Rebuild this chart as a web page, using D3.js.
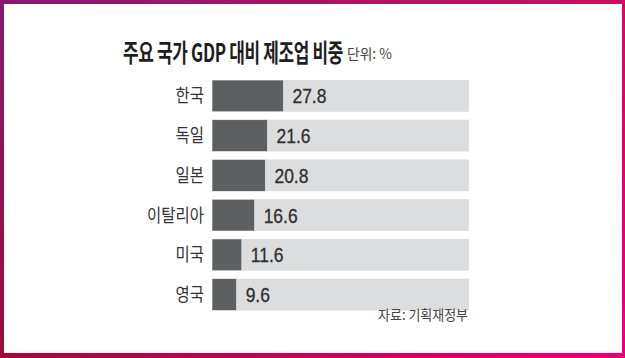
<!DOCTYPE html>
<html><head><meta charset="utf-8">
<script src="https://cdn.jsdelivr.net/npm/d3@7"></script>
<style>
html,body{margin:0;padding:0;background:#fff;}
svg{display:block;}
</style></head>
<body>
<svg id="c" width="625" height="358"></svg>
<script>
const categories = ["한국", "독일", "일본", "이탈리아", "미국", "영국"];
const values = [27.8, 21.6, 20.8, 16.6, 11.6, 9.6];
const valueLabels = ["27.8", "21.6", "20.8", "16.6", "11.6", "9.6"];
const domainMax = 100;
const titleText = "주요 국가 GDP 대비 제조업 비중";
const unitText = "단위: %";
const sourceText = "자료: 기획재정부";

const svg = d3.select("#c");
const W = 625, H = 358;
const defs = svg.append("defs");
function grad(id, x1, y1, x2, y2, c1, c2) {
  const g = defs.append("linearGradient").attr("id", id)
    .attr("x1", x1).attr("y1", y1).attr("x2", x2).attr("y2", y2);
  g.append("stop").attr("offset", "0%").attr("stop-color", c1);
  g.append("stop").attr("offset", "100%").attr("stop-color", c2);
}
grad("gTop", "0%", "0%", "100%", "0%", "#8c1670", "#cc0d5e");
grad("gBot", "0%", "0%", "100%", "0%", "#a6063c", "#e3007b");
grad("gLeft", "0%", "0%", "0%", "100%", "#8c1670", "#a6063c");
grad("gRight", "0%", "0%", "0%", "100%", "#cc0d5e", "#e3007b");

svg.append("rect").attr("width", W).attr("height", H).attr("fill", "#fff");
svg.append("rect").attr("x", 0).attr("y", 0).attr("width", W).attr("height", 4).attr("fill", "url(#gTop)");
svg.append("rect").attr("x", 0).attr("y", 353).attr("width", W).attr("height", 5).attr("fill", "url(#gBot)");
svg.append("rect").attr("x", 0).attr("y", 0).attr("width", 4).attr("height", H).attr("fill", "url(#gLeft)");
svg.append("rect").attr("x", 622).attr("y", 0).attr("width", 3).attr("height", H).attr("fill", "url(#gRight)");

const x = d3.scaleLinear().domain([0, domainMax]).range([212, 469]);
const y = d3.scaleBand().domain(categories).range([80, 310.5]).paddingInner(0.2).paddingOuter(0);

const krFont = "'Noto Sans CJK KR', 'Noto Sans', sans-serif";
const numFont = "'Liberation Sans', Arial, sans-serif";

function squeeze(sel, s) {
  sel.each(function() {
    const t = d3.select(this);
    const xx = +t.attr("x"), yy = +t.attr("y");
    t.attr("transform", `translate(${xx},${yy}) scale(${s},1) translate(${-xx},${-yy})`);
  });
}
function fitText(sel, target) {
  const w = sel.node().getComputedTextLength();
  squeeze(sel, target / w);
}
const title = svg.append("text").attr("x", 123).attr("y", 62)
  .attr("font-family", krFont).attr("font-weight", 700).attr("font-size", 25)
  .attr("fill", "#1e1e1e").attr("letter-spacing", -0.5).text(titleText);
fitText(title, 220);
const unit = svg.append("text").attr("x", 347).attr("y", 59)
  .attr("font-family", krFont).attr("font-size", 14).attr("fill", "#444").text(unitText);
fitText(unit, 45);

const rows = svg.append("g").selectAll("g").data(categories).join("g");
rows.append("rect")
  .attr("x", x(0)).attr("y", d => y(d))
  .attr("width", x(domainMax) - x(0)).attr("height", y.bandwidth())
  .attr("fill", "#dcdddf");
rows.append("rect")
  .attr("x", x(0)).attr("y", d => y(d))
  .attr("width", (d, i) => x(values[i]) - x(0)).attr("height", y.bandwidth())
  .attr("fill", "#5e5f61").attr("stroke", "#fafafa").attr("stroke-width", 0.6);

const cat = rows.append("text")
  .attr("x", 204).attr("y", d => y(d) + y.bandwidth() / 2 + 6.5)
  .attr("text-anchor", "end")
  .attr("font-family", krFont).attr("font-size", 18).attr("fill", "#333")
  .text(d => d);
squeeze(cat, 0.86);

const num = rows.append("text")
  .attr("x", (d, i) => x(values[i]) + 9)
  .attr("y", d => y(d) + y.bandwidth() / 2 + 7.5)
  .attr("font-family", numFont).attr("font-size", 21).attr("fill", "#2e2e2e")
  .attr("stroke", "#2e2e2e").attr("stroke-width", 0.3)
  .text((d, i) => valueLabels[i]);
const w0 = num.nodes()[0].getComputedTextLength();
squeeze(num, 34 / w0);

const src = svg.append("text").attr("x", 468).attr("y", 320).attr("text-anchor", "end")
  .attr("font-family", krFont).attr("font-size", 14).attr("fill", "#444").text(sourceText);
fitText(src, 90);
</script>
</body></html>
